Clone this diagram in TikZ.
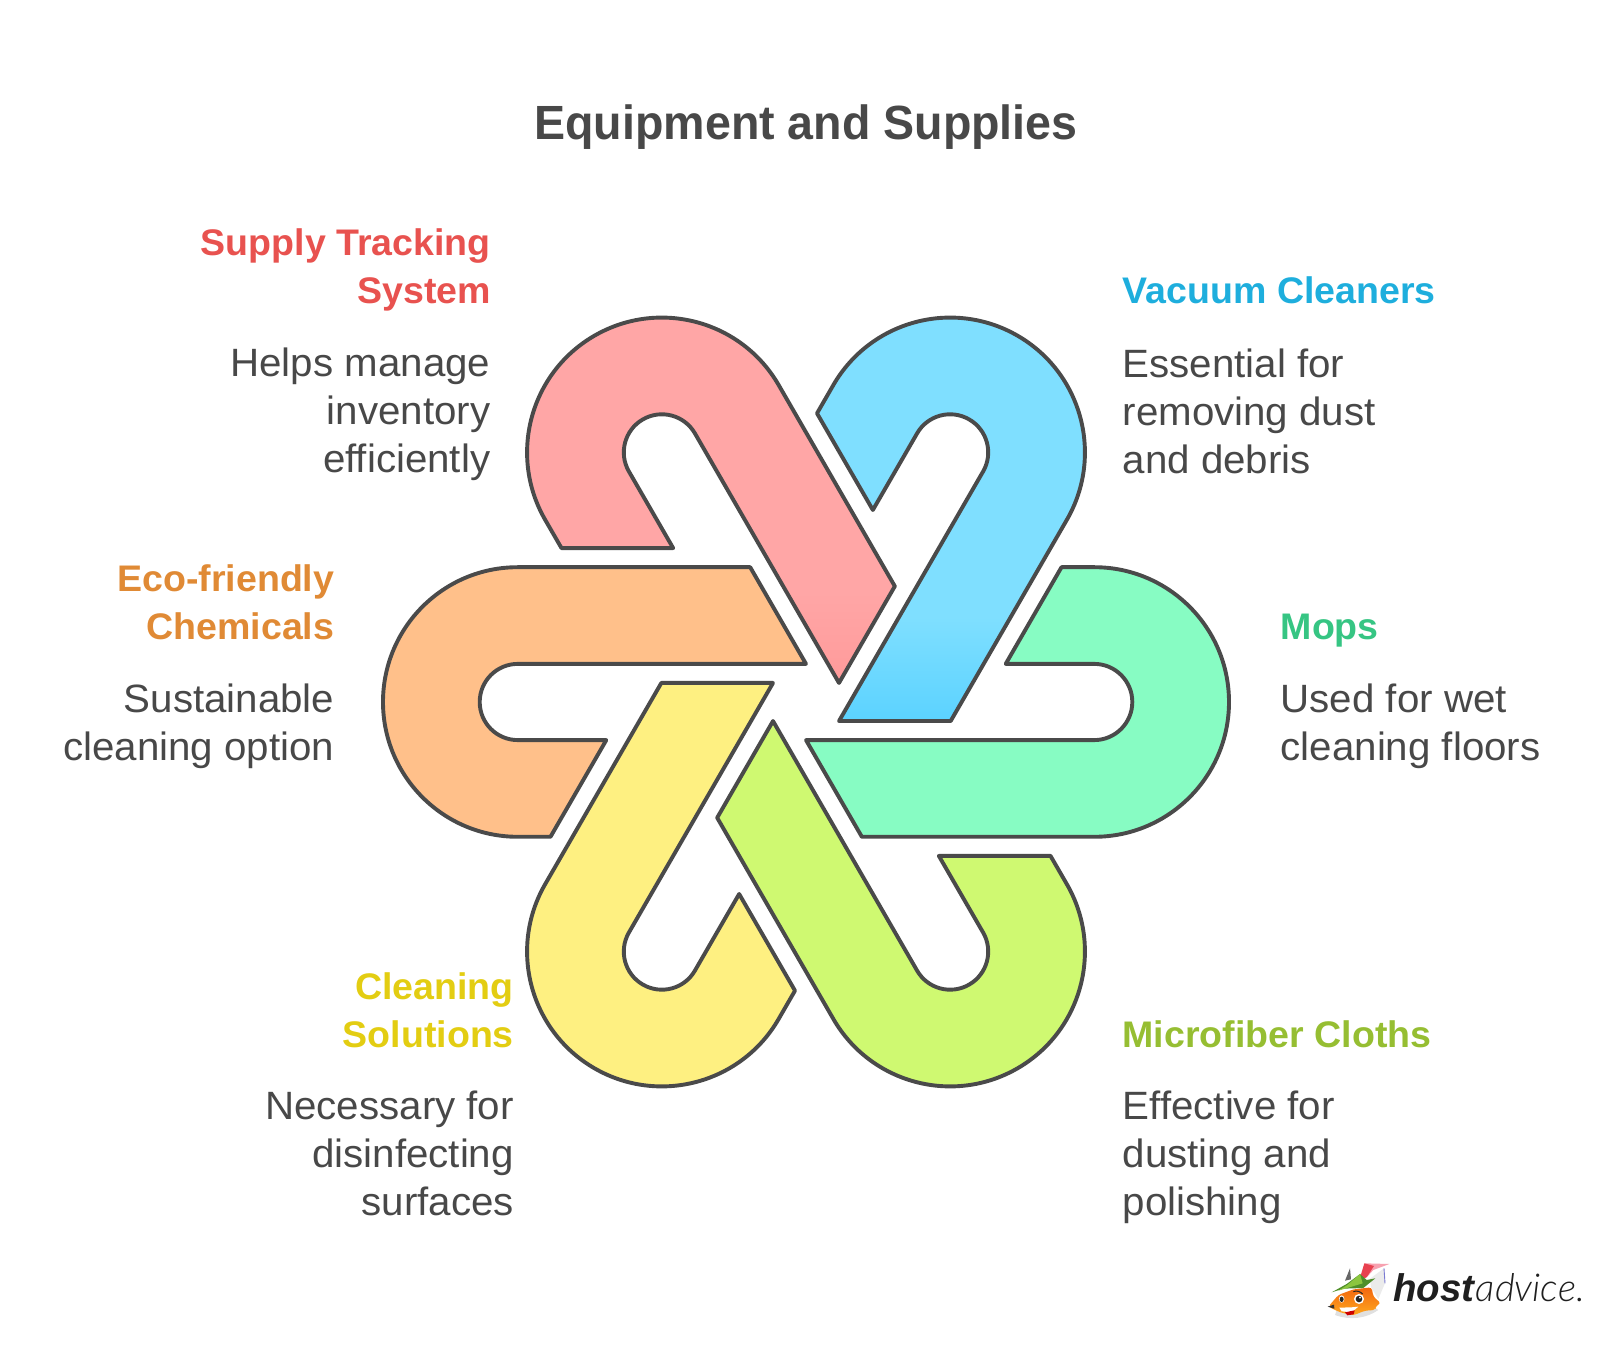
\documentclass[tikz,border=0pt]{standalone}
\usepackage{fontspec}
\setmainfont{Liberation Sans}
\newfontfamily\logolight{Lato Light}
\newfontfamily\bodyfont{Liberation Sans}[FakeStretch=1.02]
\newfontfamily\headfont{Liberation Sans}[FakeStretch=1.015]
\newfontfamily\titlefont{Liberation Sans}[FakeStretch=0.97]
\definecolor{inkgrey}{HTML}{4A4A4A}
\definecolor{txtgrey}{HTML}{484848}
\definecolor{linkgreen}{HTML}{87FCC3}
\definecolor{linkblue}{HTML}{7FDFFF}
\definecolor{linkbluedk}{HTML}{5AD2FF}
\definecolor{linkred}{HTML}{FFA6A6}
\definecolor{linkreddk}{HTML}{FF9A9A}
\definecolor{linkorange}{HTML}{FFC08A}
\definecolor{linkyellow}{HTML}{FEF081}
\definecolor{linklime}{HTML}{CFF971}
\definecolor{headred}{HTML}{E8524F}
\definecolor{headblue}{HTML}{1EAEDD}
\definecolor{headgreen}{HTML}{36C583}
\definecolor{headorange}{HTML}{E08A35}
\definecolor{headyellow}{HTML}{E3CD12}
\definecolor{headlime}{HTML}{96BE32}
\definecolor{foxdeep}{HTML}{F2660F}
\definecolor{foxlight}{HTML}{FFA81F}
\definecolor{hatlight}{HTML}{8CC63F}
\definecolor{hatdark}{HTML}{4F8F2A}
\definecolor{featherred}{HTML}{E8414F}
\definecolor{featherpink}{HTML}{F7A1B0}
\newcommand\linkshape{(255.5,134.8) -- (288.2,134.8) arc (90:-90:134.8) -- (55.83,-134.8) -- (0,-38.1) -- (288.2,-38.1) arc (-90:90:38.1) -- (199.7,38.1) -- cycle}
\tikzset{
  linkline/.style={draw=inkgrey,line width=3.9pt,line join=round},
  headtext/.style={font=\headfont\bfseries\fontsize{37}{48}\selectfont,inner sep=0pt},
  bodytext/.style={font=\bodyfont\fontsize{39.5}{48}\selectfont,text=txtgrey,inner sep=0pt},
}
\begin{document}
\begin{tikzpicture}[x=1pt,y=1pt]
\useasboundingbox (0,0) rectangle (1614,1358);
\node[font=\titlefont\bfseries\fontsize{48}{56}\selectfont,text=txtgrey,inner sep=0pt,anchor=base] (title) at (806,1218) {Equipment and Supplies};
\begin{scope}[shift={(806,656)}]
  \path[fill=linkgreen,rotate=0] \linkshape;
  \path[linkline,rotate=0] \linkshape;
  \path[fill=linkblue,rotate=60] \linkshape;
  \begin{scope}
    \path[clip,rotate=60] \linkshape;
    \shade[top color=linkblue,bottom color=linkbluedk] (-100,-22) rectangle (300,85);
  \end{scope}
  \path[linkline,rotate=60] \linkshape;
  \path[fill=linkred,rotate=120] \linkshape;
  \begin{scope}
    \path[clip,rotate=120] \linkshape;
    \shade[top color=linkred,bottom color=linkreddk] (-100,18) rectangle (300,110);
  \end{scope}
  \path[linkline,rotate=120] \linkshape;
  \path[fill=linkorange,linkline,rotate=180] \linkshape;
  \path[fill=linkyellow,linkline,rotate=240] \linkshape;
  \path[fill=linklime,linkline,rotate=300] \linkshape;
\end{scope}
% labels
\node[headtext,text=headblue,anchor=base west] (vachead) at (1122.5,1054.5) {Vacuum Cleaners};
\node[bodytext,align=left,anchor=base west] (vacbody) at (1122.5,884.8) {Essential for\\removing dust\\and debris};
\node[headtext,text=headgreen,anchor=base west] (mophead) at (1280.5,718.2) {Mops};
\node[bodytext,align=left,anchor=base west] (mopbody) at (1280.5,597.3) {Used for wet\\cleaning floors};
\node[headtext,text=headlime,anchor=base west] (clothhead) at (1122.5,310.2) {Microfiber Cloths};
\node[bodytext,align=left,anchor=base west] (clothbody) at (1122.5,142.2) {Effective for\\dusting and\\polishing};
\node[headtext,text=headred,align=right,anchor=base east] (suphead) at (491,1054) {Supply Tracking\\System};
\node[bodytext,align=right,anchor=base east] (supbody) at (490.5,885.3) {Helps manage\\inventory\\efficiently};
\node[headtext,text=headorange,align=right,anchor=base east] (ecohead) at (334.5,718.2) {Eco-friendly\\Chemicals};
\node[bodytext,align=right,anchor=base east] (ecobody) at (334.5,597.3) {Sustainable\\cleaning option};
\node[headtext,text=headyellow,align=right,anchor=base east] (cleanhead) at (514,310.2) {Cleaning\\Solutions};
\node[bodytext,align=right,anchor=base east] (cleanbody) at (514,142.2) {Necessary for\\disinfecting\\surfaces};
% logo
\node[anchor=base west,inner sep=0pt,text=black!88,font=\fontsize{38.5}{38.5}\selectfont] (logotext) at (1393,56.3) {\textbf{\textit{host}}{\logolight\itshape advice.}};
\begin{scope}[shift={(1310,108)},x=0.3333pt,y=-0.3333pt]
  \fill[black!12] (75,195) .. controls (120,212) and (170,205) .. (205,180) -- (190,170) -- (80,180) -- cycle;
  \fill[featherpink] (165,40) -- (238,42) -- (190,60) -- (172,80) -- cycle;
  \fill[featherred] (148,90) -- (163,40) -- (192,48) -- (170,82) -- cycle;
  \fill[black!8] (180,86) -- (222,55) -- (225,100) -- (205,147) -- (183,112) -- cycle;
  \draw[blue!50!gray!70!white,line width=0.9pt] (222,55) -- (225,100);
  \fill[black!60] (105,92) -- (120,55) -- (123,88) -- cycle;
  \shade[top color=foxdeep,bottom color=foxlight,rounded corners=3pt] (55,170) -- (85,135) -- (130,118) -- (185,112) -- (190,140) -- (213,160) -- (197,168) -- (196,180) -- (165,182) -- (130,196) -- (90,187) -- cycle;
  \fill[white] (88,173) -- (125,172) -- (145,170) -- (125,187) -- (95,184) -- cycle;
  \fill[hatdark] (65,127) -- (110,102) -- (150,72) -- (170,90) -- (196,85) -- (160,114) -- (100,116) -- cycle;
  \fill[hatlight] (85,122) -- (112,105) -- (150,72) -- (158,100) -- (118,112) -- cycle;
  \fill[white] (95,147) ellipse (8 and 11);
  \fill[white] (147,147) circle (15);
  \fill[black!85] (95,148) ellipse (6 and 8);
  \fill[black!85] (147,147) circle (10);
  \fill[white] (150,143) circle (3);
  \draw[black!85,line width=1pt] (130,125) .. controls (140,121) and (150,124) .. (158,132);
  \fill[black!80] (53,170) -- (72,164) -- (73,176) -- cycle;
  \fill[red!80!black] (105,187) -- (134,181) -- (131,193) -- (112,196) -- cycle;
\end{scope}
\end{tikzpicture}
\end{document}
